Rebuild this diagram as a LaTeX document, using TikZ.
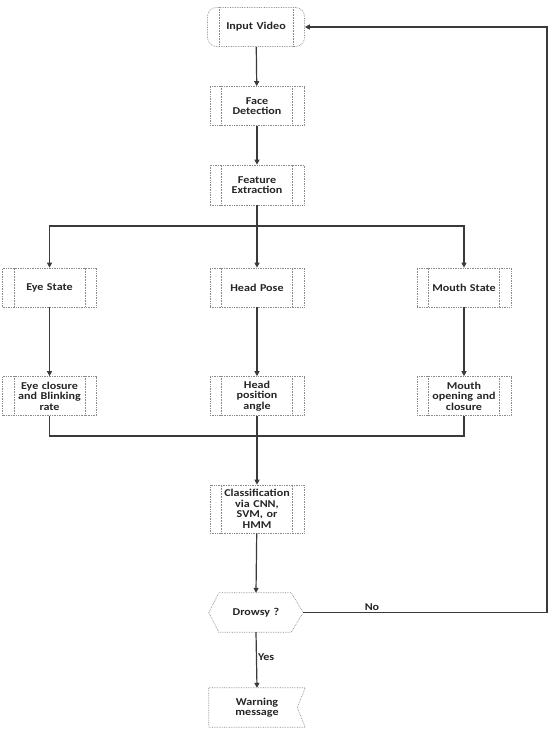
\documentclass[tikz,border=0pt]{standalone}
\usepackage{fontspec}
\setmainfont{Carlito}
\newfontfamily\boxfont[FakeStretch=1.15]{Carlito}
\usetikzlibrary{arrows.meta}
\definecolor{linec}{HTML}{3A3A3A}
\definecolor{borderc}{HTML}{8A8A8A}
\tikzset{
  box/.style={draw=borderc, densely dotted, line width=0.7pt, minimum width=94pt, minimum height=39pt,
    align=center, text width=72pt, inner sep=1pt,
    font=\boxfont\bfseries\fontsize{10.5}{10.5}\selectfont, text=black!85},
  plain/.style={inner sep=0pt, align=center, text width=72pt,
    font=\boxfont\bfseries\fontsize{10.5}{10.5}\selectfont, text=black!85},
  conn/.style={draw=linec, line width=1.2pt},
  arr/.style={conn, -{Triangle[length=5pt,width=5pt]}},
  inner/.style={draw=borderc, densely dotted, line width=0.6pt},
  lbl/.style={font=\boxfont\bfseries\fontsize{10.5}{10.5}\selectfont, text=black!85, inner sep=1pt}
}
\begin{document}
\begin{tikzpicture}[x=1pt,y=-1pt]
\useasboundingbox (0,0) rectangle (552,731);
\fill[white] (0,0) rectangle (552,731);

% nodes
\node[box, rounded corners=9pt, minimum width=97pt] (in) at (256,27) {Input Video};
\node[box] (fd) at (257,106) {Face\\Detection};
\node[box, minimum height=40pt] (fe) at (257,185) {Feature\\Extraction};
\node[box] (es) at (49.5,287.5) {Eye State};
\node[box] (hp) at (257,287.5) {Head Pose};
\node[box] (ms) at (464,287.5) {Mouth State};
\node[box] (ec) at (49.5,396) {Eye closure\\and Blinking\\rate};
\node[box] (hpa) at (257,396) {Head\\position\\angle};
\node[box] (mo) at (464,396) {Mouth\\opening and\\closure};
\node[box, minimum height=48pt] (cl) at (257,509) {Classification\\via CNN,\\SVM, or\\HMM};
\node[plain, minimum width=94pt, minimum height=39pt] (dr) at (256,612.5) {Drowsy ?};
\node[plain, minimum width=96pt, minimum height=39pt] (wm) at (257,707.5) {Warning\\message};

% inner lines of predefined-process boxes
\foreach \n in {in,fd,fe,es,hp,ms,ec,hpa,mo,cl}{
  \draw[inner] ([xshift=12pt]\n.north west) -- ([xshift=12pt]\n.south west);
  \draw[inner] ([xshift=-12pt]\n.north east) -- ([xshift=-12pt]\n.south east);
}

% hexagon decision
\draw[draw=borderc, densely dotted, line width=0.7pt]
  (dr.west) -- ([xshift=10pt]dr.north west) -- ([xshift=-12pt]dr.north east)
  -- (dr.east) -- ([xshift=-12pt]dr.south east) -- ([xshift=10pt]dr.south west) -- cycle;

% warning (notched) shape
\draw[draw=borderc, densely dotted, line width=0.7pt]
  (wm.north west) -- (wm.north east) -- ([xshift=-8pt]wm.east) -- (wm.south east)
  -- (wm.south west) -- cycle;

% coordinates
\coordinate (j1) at (257,226);
\coordinate (j2) at (257,436);
\coordinate (rc) at (547,612.5);

% connectors
\draw[arr] (in) -- (fd);
\draw[arr] (fd) -- (fe);
\draw[conn] (fe.south) -- (j1);
\draw[arr] (j1) -- (hp.north);
\draw[arr] (j1) -| (es.north);
\draw[arr] (j1) -| (ms.north);
\draw[arr] (es) -- (ec);
\draw[arr] (hp) -- (hpa);
\draw[arr] (ms) -- (mo);
\draw[conn] (ec.south) |- (j2);
\draw[conn] (mo.south) |- (j2);
\draw[arr] (hpa.south) -- (cl.north);
\draw[arr] (cl) -- (dr.north);
\draw[arr] (dr.south) -- node[lbl, right, pos=0.45] {Yes} (wm.north);
\draw[arr] (dr.east) -- (rc) |- (in.east);
\node[lbl, anchor=south] (no) at (372,612) {No};
\end{tikzpicture}
\end{document}
